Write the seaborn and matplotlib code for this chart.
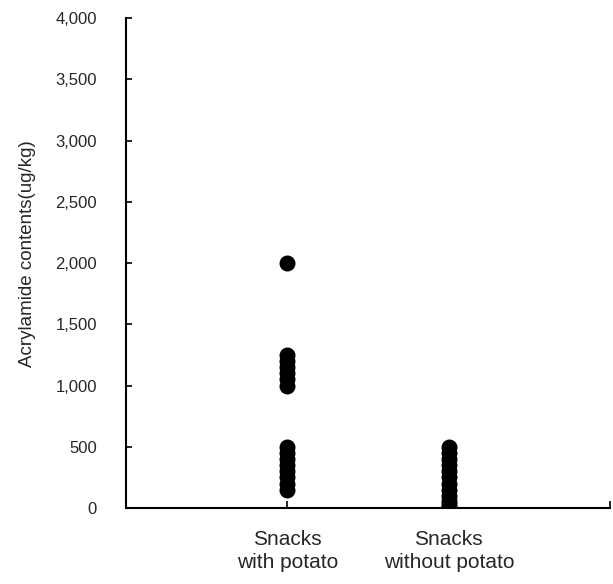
import pandas as pd
import matplotlib
matplotlib.use("Agg")
import matplotlib.pyplot as plt
import seaborn as sns

# Daten
categories = ["Snacks\nwith potato", "Snacks\nwithout potato"]
with_potato = [2000, 1250, 1200, 1150, 1100, 1050, 1000,
               500, 450, 400, 350, 300, 250, 200, 150]
without_potato = [500, 450, 400, 350, 300, 250, 200, 150, 100, 60, 30, 10]

df = pd.DataFrame({
    "Gruppe": [categories[0]] * len(with_potato) + [categories[1]] * len(without_potato),
    "Wert": with_potato + without_potato,
})

sns.set_style("white")
plt.rcParams["font.family"] = ["Liberation Sans", "DejaVu Sans"]

fig = plt.figure(figsize=(6.13, 5.84), dpi=100)
ax = fig.add_axes([0.2055, 0.130, 0.79, 0.839])

sns.stripplot(data=df, x="Gruppe", y="Wert", order=categories, jitter=False,
              color="black", size=11.5, linewidth=0, ax=ax)

ax.set_xlim(-1, 2)
ax.set_ylim(0, 4000)
ax.set_yticks(range(0, 4001, 500))
ax.set_yticklabels([f"{v:,}" for v in range(0, 4001, 500)])
ax.set_xticks([0, 1, 2])
ax.set_xticklabels(categories + [""], linespacing=1.25, fontsize=15)
ax.set_xlabel("")
ax.set_ylabel("Acrylamide contents(ug/kg)", fontsize=13.5)
ax.yaxis.set_label_coords(-0.185, 0.52)

for s in ["top", "right"]:
    ax.spines[s].set_visible(False)
for s in ["left", "bottom"]:
    ax.spines[s].set_color("black")
    ax.spines[s].set_linewidth(1.5)

ax.tick_params(axis="y", left=True, direction="in", length=4, width=1.2,
               labelsize=12, pad=21, color="black")
ax.tick_params(axis="x", bottom=True, direction="in", length=5, width=1.2,
               pad=16, color="black")
ax.grid(False)

plt.savefig("out.png", dpi=100)
